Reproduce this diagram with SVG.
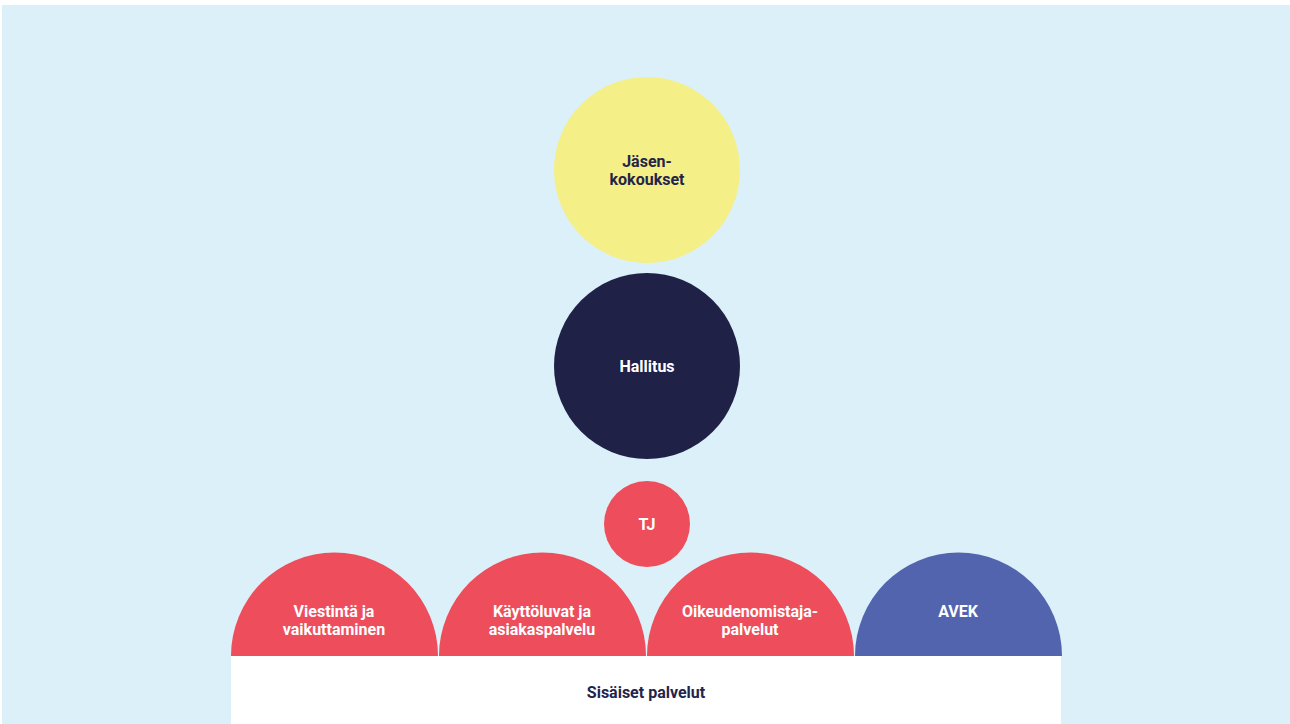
<svg xmlns="http://www.w3.org/2000/svg" width="1290" height="724" viewBox="0 0 1290 724">
<style>
.lbl{font-family:Roboto,"Liberation Sans",sans-serif;font-weight:700;font-size:16px;text-anchor:middle}
.w{fill:#ffffff}
.d{fill:#24244a}
.red{fill:#ee4d5b}
</style>
<rect x="0" y="0" width="1290" height="724" fill="#ffffff"/>
<rect x="2" y="5" width="1288" height="719" fill="#dcf0f9"/>
<g id="sisaiset">
<rect x="231" y="656" width="830" height="68" fill="#ffffff"/>
<text class="lbl d" x="646" y="698">Sisäiset palvelut</text>
</g>
<g id="jasenkokoukset">
<circle cx="647" cy="170" r="93" fill="#f4ef86"/>
<text class="lbl d" x="647" y="167">Jäsen-</text>
<text class="lbl d" x="647" y="185">kokoukset</text>
</g>
<g id="hallitus">
<circle cx="647" cy="366" r="93" fill="#1f2147"/>
<text class="lbl w" x="647" y="372">Hallitus</text>
</g>
<g id="tj">
<circle cx="647" cy="524" r="43" class="red"/>
<text class="lbl w" x="647" y="530">TJ</text>
</g>
<g id="viestinta">
<path d="M231,656 A103.5,103.5 0 0 1 438,656 Z" class="red"/>
<text class="lbl w" x="334" y="617">Viestintä ja</text>
<text class="lbl w" x="334" y="635">vaikuttaminen</text>
</g>
<g id="kayttoluvat">
<path d="M439,656 A103.5,103.5 0 0 1 646,656 Z" class="red"/>
<text class="lbl w" x="542" y="617">Käyttöluvat ja</text>
<text class="lbl w" x="542" y="635">asiakaspalvelu</text>
</g>
<g id="oikeudenomistaja">
<path d="M647,656 A103.5,103.5 0 0 1 854,656 Z" class="red"/>
<text class="lbl w" x="750" y="617">Oikeudenomistaja-</text>
<text class="lbl w" x="750" y="635">palvelut</text>
</g>
<g id="avek">
<path d="M855,656 A103.5,103.5 0 0 1 1062,656 Z" fill="#5264ae"/>
<text class="lbl w" x="958" y="617">AVEK</text>
</g>
<g id="connectors"></g>
</svg>
